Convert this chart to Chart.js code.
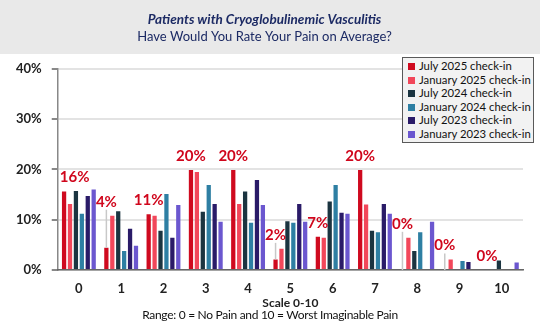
<!DOCTYPE html>
<html>
<head>
<meta charset="utf-8">
<script src="https://cdn.jsdelivr.net/npm/chart.js@4.4.1/dist/chart.umd.min.js"></script>
<style>
    body { margin: 0; background: #fff; font-family: Lato, "Liberation Sans", sans-serif; }
    #wrap { position: relative; width: 540px; height: 331px; overflow: hidden; }
    #legend {
        position: absolute; left: 402px; top: 57px; width: 132px;
        background: #f2f2f2; border: 1px solid #595959; box-sizing: border-box;
        padding: 1px 0 1px 5px; font-size: 11.3px; line-height: 13.6px; color: #111;
        white-space: nowrap;
    }
    #legend .sw { display: inline-block; width: 7px; height: 7px; margin-right: 4px; }
    #note {
        position: absolute; left: 0; top: 308px; width: 540px; text-align: center;
        font-size: 12px; line-height: 14px; letter-spacing: -0.3px; color: #111;
    }
</style>
</head>
<body>
<div id="wrap">
    <canvas id="painChart" width="540" height="331"></canvas>
    <div id="legend"></div>
    <div id="note"></div>
</div>
<script>
// Data (persen responden)
const categories = ['0', '1', '2', '3', '4', '5', '6', '7', '8', '9', '10'];
const seriesNames = ['July 2025 check-in', 'January 2025 check-in', 'July 2024 check-in',
    'January 2024 check-in', 'July 2023 check-in', 'January 2023 check-in'];
const july2025 = [15.6, 4.4, 11.1, 19.9, 19.9, 2.1, 6.6, 19.9, 0, 0, 0];
const jan2025 = [13.1, 10.8, 10.8, 19.5, 13.1, 4.2, 6.4, 13.0, 6.4, 2.1, 0];
const july2024 = [15.7, 11.7, 7.8, 11.6, 15.6, 9.7, 13.6, 7.8, 3.8, 0, 1.9];
const jan2024 = [11.2, 3.8, 15.1, 16.9, 9.4, 9.4, 16.9, 7.5, 7.5, 1.8, 0];
const july2023 = [14.7, 8.2, 6.4, 13.1, 17.9, 13.1, 11.4, 13.1, 0, 1.6, 0];
const jan2023 = [16.0, 4.8, 12.9, 9.6, 12.9, 9.6, 11.2, 11.2, 9.6, 0, 1.5];
const yTicks = [0, 10, 20, 30, 40];

const seriesData = [july2025, jan2025, july2024, jan2024, july2023, jan2023];
const seriesColors = ['#cf0a1f', '#f2475a', '#1b3440', '#2e7fa3', '#2a1b68', '#6b57cf'];

const titleText = 'Patients with Cryoglobulinemic Vasculitis';
const subtitleText = 'Have Would You Rate Your Pain on Average?';
const xTitle = 'Scale 0-10';
const noteText = 'Range: 0 = No Pain and 10 = Worst Imaginable Pain';

const FONT = 'Lato, "Liberation Sans", sans-serif';

// Legend HTML
const legendEl = document.getElementById('legend');
seriesNames.forEach((name, i) => {
    const row = document.createElement('div');
    const sw = document.createElement('span');
    sw.className = 'sw';
    sw.style.background = seriesColors[i];
    row.appendChild(sw);
    row.appendChild(document.createTextNode(name));
    legendEl.appendChild(row);
});
document.getElementById('note').textContent = noteText;

// Band abu-abu di belakang judul
const titleBand = {
    id: 'titleBand',
    beforeDraw(chart) {
        const ctx = chart.ctx;
        ctx.save();
        ctx.fillStyle = '#e9e9e9';
        ctx.fillRect(0, 0, chart.width, 54);
        ctx.restore();
    }
};

// Label persen merah untuk seri July 2025, dengan garis penunjuk
const redLabels = {
    id: 'redLabels',
    afterDatasetsDraw(chart) {
        const ctx = chart.ctx;
        const meta = chart.getDatasetMeta(0);
        const yScale = chart.scales.y;
        const area = chart.chartArea;
        ctx.save();
        ctx.font = 'bold 15px ' + FONT;
        ctx.textAlign = 'center';
        ctx.textBaseline = 'middle';
        meta.data.forEach((bar, i) => {
            const v = july2025[i];
            const ref = Math.max(v, jan2025[i]);
            const text = Math.round(v) + '%';
            const w = ctx.measureText(text).width;
            let x = bar.x;
            if (x - w / 2 < area.left + 2) x = area.left + 2 + w / 2;
            const y = yScale.getPixelForValue(ref) - 14;
            const gapTop = y + 8;
            if (bar.y - gapTop > 6) {
                ctx.strokeStyle = '#c8c8c8';
                ctx.lineWidth = 1.5;
                ctx.beginPath();
                ctx.moveTo(bar.x, gapTop);
                ctx.lineTo(bar.x, bar.y);
                ctx.stroke();
            }
            ctx.fillStyle = '#d0061c';
            ctx.fillText(text, x, y);
        });
        ctx.restore();
    }
};

new Chart(document.getElementById('painChart'), {
    type: 'bar',
    data: {
        labels: categories,
        datasets: seriesNames.map((name, i) => ({
            label: name,
            data: seriesData[i],
            backgroundColor: seriesColors[i],
            borderWidth: 0,
            categoryPercentage: 0.84,
            barPercentage: 0.72
        }))
    },
    options: {
        responsive: false,
        animation: false,
        layout: { padding: { left: 6, right: 17, bottom: 21 } },
        plugins: {
            legend: { display: false },
            tooltip: { enabled: false },
            title: {
                display: true,
                text: titleText,
                color: '#1c2a64',
                font: { family: FONT, size: 13.5, weight: 'bold', style: 'italic' },
                padding: { top: 12, bottom: 0 }
            },
            subtitle: {
                display: true,
                text: subtitleText,
                color: '#1c2a64',
                font: { family: FONT, size: 13 },
                padding: { top: 1, bottom: 24 }
            }
        },
        scales: {
            y: {
                min: 0,
                max: 40,
                afterBuildTicks: (axis) => { axis.ticks = yTicks.map(v => ({ value: v })); },
                ticks: {
                    callback: (v) => v + '%',
                    color: '#222',
                    padding: 10,
                    font: { family: FONT, size: 13, weight: 'bold' }
                },
                grid: { color: '#e3e3e3', lineWidth: 2, tickLength: 6, tickColor: '#888' },
                border: { color: '#888', width: 1.5 }
            },
            x: {
                ticks: {
                    color: '#222',
                    padding: 11,
                    font: { family: FONT, size: 13, weight: 'bold' }
                },
                grid: { display: false, drawTicks: false },
                border: { color: '#666', width: 1.5 },
                title: {
                    display: true,
                    text: xTitle,
                    color: '#222',
                    font: { family: FONT, size: 12, weight: 'bold' },
                    padding: { top: -12, bottom: 0 }
                }
            }
        }
    },
    plugins: [titleBand, redLabels]
});
</script>
</body>
</html>
